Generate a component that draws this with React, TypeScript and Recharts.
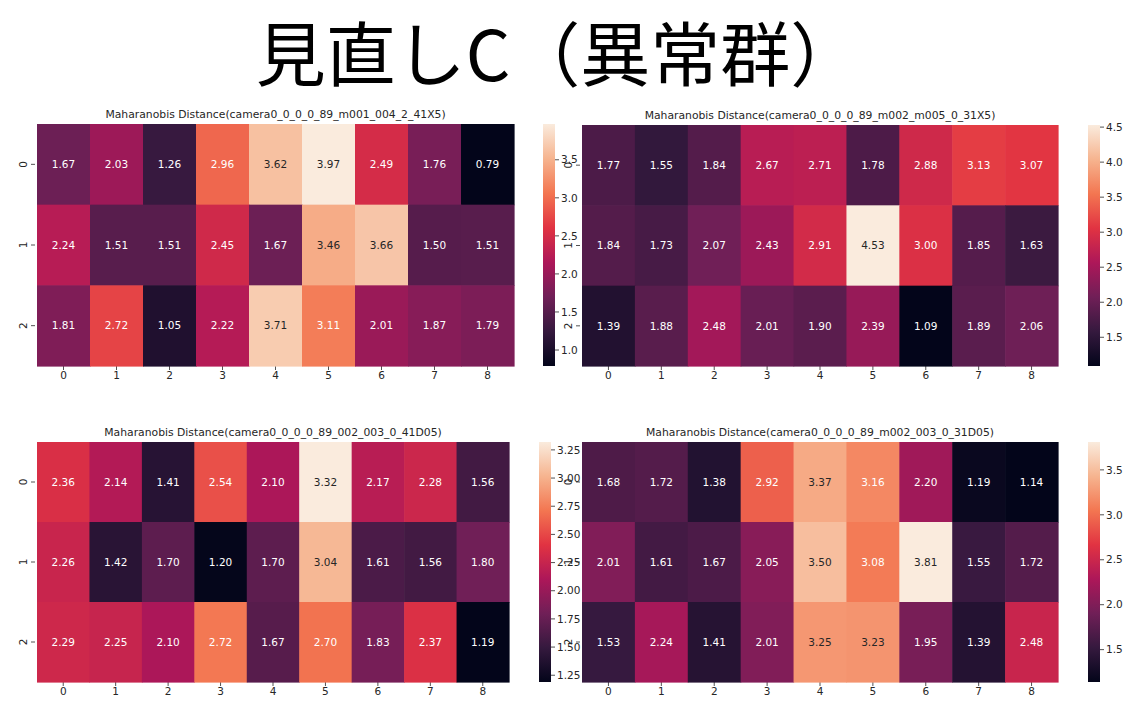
import { ScatterChart, Scatter, XAxis, YAxis, ComposedChart, ReferenceArea } from 'recharts'

const pageTitle = '見直しC（異常群）'
const colLabels = ['0', '1', '2', '3', '4', '5', '6', '7', '8']
const rowLabels = ['0', '1', '2']

const titleA = 'Maharanobis Distance(camera0_0_0_0_89_m001_004_2_41X5)'
const valuesA = [
  [1.67, 2.03, 1.26, 2.96, 3.62, 3.97, 2.49, 1.76, 0.79],
  [2.24, 1.51, 1.51, 2.45, 1.67, 3.46, 3.66, 1.5, 1.51],
  [1.81, 2.72, 1.05, 2.22, 3.71, 3.11, 2.01, 1.87, 1.79],
]
const ticksA = [1.0, 1.5, 2.0, 2.5, 3.0, 3.5]

const titleB = 'Maharanobis Distance(camera0_0_0_0_89_m002_m005_0_31X5)'
const valuesB = [
  [1.77, 1.55, 1.84, 2.67, 2.71, 1.78, 2.88, 3.13, 3.07],
  [1.84, 1.73, 2.07, 2.43, 2.91, 4.53, 3.0, 1.85, 1.63],
  [1.39, 1.88, 2.48, 2.01, 1.9, 2.39, 1.09, 1.89, 2.06],
]
const ticksB = [1.5, 2.0, 2.5, 3.0, 3.5, 4.0, 4.5]

const titleC = 'Maharanobis Distance(camera0_0_0_0_89_002_003_0_41D05)'
const valuesC = [
  [2.36, 2.14, 1.41, 2.54, 2.1, 3.32, 2.17, 2.28, 1.56],
  [2.26, 1.42, 1.7, 1.2, 1.7, 3.04, 1.61, 1.56, 1.8],
  [2.29, 2.25, 2.1, 2.72, 1.67, 2.7, 1.83, 2.37, 1.19],
]
const ticksC = [1.25, 1.5, 1.75, 2.0, 2.25, 2.5, 2.75, 3.0, 3.25]

const titleD = 'Maharanobis Distance(camera0_0_0_0_89_m002_003_0_31D05)'
const valuesD = [
  [1.68, 1.72, 1.38, 2.92, 3.37, 3.16, 2.2, 1.19, 1.14],
  [2.01, 1.61, 1.67, 2.05, 3.5, 3.08, 3.81, 1.55, 1.72],
  [1.53, 2.24, 1.41, 2.01, 3.25, 3.23, 1.95, 1.39, 2.48],
]
const ticksD = [1.5, 2.0, 2.5, 3.0, 3.5]

// seaborn "rocket" sampled
const rocket: [number, string][] = [
  [0, '#03051a'],
  [1 / 7, '#35193e'],
  [2 / 7, '#701f57'],
  [3 / 7, '#ad1759'],
  [4 / 7, '#e13342'],
  [5 / 7, '#f37651'],
  [6 / 7, '#f6b48f'],
  [1, '#faebdd'],
]

const hexToRgb = (h: string) => [1, 3, 5].map((i) => parseInt(h.slice(i, i + 2), 16))

const rocketRgb = (t: number) => {
  const u = Math.max(0, Math.min(1, t))
  for (let k = 1; k < rocket.length; k++) {
    if (u <= rocket[k][0]) {
      const [p0, c0] = rocket[k - 1]
      const [p1, c1] = rocket[k]
      const f = (u - p0) / (p1 - p0)
      const a = hexToRgb(c0)
      const b = hexToRgb(c1)
      return a.map((v, i) => Math.round(v + (b[i] - v) * f))
    }
  }
  return hexToRgb(rocket[rocket.length - 1][1])
}

const luminance = (rgb: number[]) => {
  const lin = rgb.map((c) => {
    const s = c / 255
    return s <= 0.03928 ? s / 12.92 : Math.pow((s + 0.055) / 1.055, 2.4)
  })
  return 0.2126 * lin[0] + 0.7152 * lin[1] + 0.0722 * lin[2]
}

const FONT = '"DejaVu Sans", sans-serif'
const TXT = '#262626'
const FS = 10.5

const YAXIS_W = 30
const XAXIS_H = 22

const RowTick = ({ x, y, payload }: any) => (
  <g>
    <line x1={x + 2} y1={y} x2={x + 6} y2={y} stroke={TXT} strokeWidth={0.8} />
    <text
      x={x - 2}
      y={y}
      transform={`rotate(-90 ${x - 2} ${y})`}
      textAnchor="middle"
      fontSize={FS}
      fontFamily={FONT}
      fill={TXT}
    >
      {rowLabels[payload.value]}
    </text>
  </g>
)

interface HeatmapProps {
  title: string
  values: number[][]
  ticks: number[]
  digits: number
  plotLeft: number
  plotTop: number
  plotW: number
  plotH: number
  cbLeft: number
  id: string
}

const Heatmap = ({ title, values, ticks, digits, plotLeft, plotTop, plotW, plotH, cbLeft, id }: HeatmapProps) => {
  const flat = values.flat()
  const vmin = Math.min(...flat)
  const vmax = Math.max(...flat)
  const cw = plotW / colLabels.length
  const ch = plotH / rowLabels.length
  const points = values.flatMap((row, i) => row.map((v, j) => ({ x: j, y: i, v })))

  const Cellshape = ({ cx, cy, payload }: any) => {
    const rgb = rocketRgb((payload.v - vmin) / (vmax - vmin))
    const textColor = luminance(rgb) > 0.408 ? TXT : '#ffffff'
    return (
      <g>
        <rect
          x={cx - cw / 2}
          y={cy - ch / 2}
          width={cw + 0.6}
          height={ch + 0.6}
          fill={`rgb(${rgb.join(',')})`}
        />
        <text
          x={cx}
          y={cy}
          dy="0.35em"
          textAnchor="middle"
          fontSize={FS}
          fontFamily={FONT}
          fill={textColor}
        >
          {payload.v.toFixed(2)}
        </text>
      </g>
    )
  }

  const cbH = plotH + 12
  return (
    <>
      <div
        style={{
          position: 'absolute',
          left: plotLeft,
          top: plotTop - 16,
          width: plotW,
          textAlign: 'center',
          fontFamily: FONT,
          fontSize: 10.8,
          color: TXT,
          whiteSpace: 'nowrap',
        }}
      >
        {title}
      </div>
      <div style={{ position: 'absolute', left: plotLeft - YAXIS_W, top: plotTop - 2 }}>
        <ScatterChart
          width={plotW + YAXIS_W + 2}
          height={plotH + XAXIS_H + 2}
          margin={{ top: 2, right: 2, bottom: 0, left: 0 }}
        >
          <XAxis
            type="number"
            dataKey="x"
            domain={[-0.5, colLabels.length - 0.5]}
            ticks={colLabels.map((_, j) => j)}
            tickFormatter={(v: number) => colLabels[v]}
            height={XAXIS_H}
            axisLine={false}
            tickSize={4}
            tickLine={{ stroke: TXT, strokeWidth: 0.8 }}
            tick={{ fontSize: FS, fontFamily: FONT, fill: TXT }}
            interval={0}
          />
          <YAxis
            type="number"
            dataKey="y"
            reversed
            domain={[-0.5, rowLabels.length - 0.5]}
            ticks={rowLabels.map((_, i) => i)}
            width={YAXIS_W}
            axisLine={false}
            tickLine={false}
            tick={<RowTick />}
            interval={0}
          />
          <Scatter data={points} shape={<Cellshape />} isAnimationActive={false} />
        </ScatterChart>
      </div>
      <div style={{ position: 'absolute', left: cbLeft, top: plotTop - 6 }}>
        <ComposedChart
          width={12 + 40}
          height={cbH}
          data={[{ k: 'cb' }]}
          margin={{ top: 6, right: 0, bottom: 6, left: 0 }}
        >
          <defs>
            <linearGradient id={id} x1="0" y1="1" x2="0" y2="0">
              {rocket.map(([p, c]) => (
                <stop key={p} offset={p} stopColor={c} />
              ))}
            </linearGradient>
          </defs>
          <XAxis dataKey="k" hide />
          <YAxis
            orientation="right"
            type="number"
            domain={[vmin, vmax]}
            ticks={ticks}
            allowDataOverflow
            width={40}
            axisLine={false}
            tickSize={4}
            tickLine={{ stroke: TXT, strokeWidth: 0.8 }}
            tick={{ fontSize: FS, fontFamily: FONT, fill: TXT }}
            tickFormatter={(v: number) => v.toFixed(digits)}
            interval={0}
          />
          <ReferenceArea y1={vmin} y2={vmax} fill={`url(#${id})`} fillOpacity={1} stroke="none" ifOverflow="visible" />
        </ComposedChart>
      </div>
    </>
  )
}

const App = () => {
  return (
    <div style={{ position: 'absolute', left: 0, top: 0, width: 1147, height: 724, background: '#fff', overflow: 'hidden' }}>
      <div
        style={{
          position: 'absolute',
          left: 17,
          top: 6,
          width: 1082,
          textAlign: 'center',
          fontFamily: '"Noto Sans CJK JP", sans-serif',
          fontSize: 70,
          lineHeight: '90px',
          color: '#000',
        }}
      >
        {pageTitle}
      </div>
      <Heatmap title={titleA} values={valuesA} ticks={ticksA} digits={1} plotLeft={37} plotTop={124} plotW={477} plotH={242} cbLeft={543} id="cbA" />
      <Heatmap title={titleB} values={valuesB} ticks={ticksB} digits={1} plotLeft={582} plotTop={125} plotW={476} plotH={241} cbLeft={1088} id="cbB" />
      <Heatmap title={titleC} values={valuesC} ticks={ticksC} digits={2} plotLeft={37} plotTop={442} plotW={472} plotH={240} cbLeft={539} id="cbC" />
      <Heatmap title={titleD} values={valuesD} ticks={ticksD} digits={1} plotLeft={582} plotTop={442} plotW={476} plotH={240} cbLeft={1088} id="cbD" />
    </div>
  )
}

export default App
